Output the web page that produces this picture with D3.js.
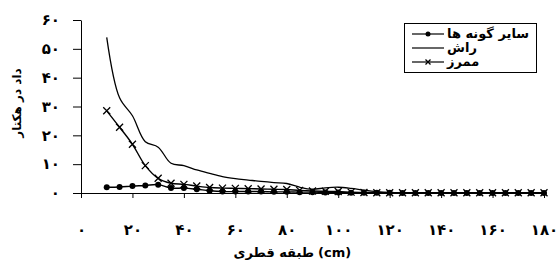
<!DOCTYPE html>
<html>
<head>
<meta charset="utf-8">
<script src="https://cdn.jsdelivr.net/npm/d3@7"></script>
<style>
  body { margin: 0; background: #fff; }
  svg { font-family: "DejaVu Sans", sans-serif; font-weight: bold; }
</style>
</head>
<body>
<div class="chart"></div>
<script>
// diameter classes (cm)
var diameters = [10, 15, 20, 25, 30, 35, 40, 45, 50, 55, 60, 65, 70, 75, 80, 85, 90, 95, 100,
  105, 110, 115, 120, 125, 130, 135, 140, 145, 150, 155, 160, 165, 170, 175, 180];

// number per hectare
var otherSpecies = [2.0, 2.1, 2.4, 2.6, 2.9, 1.7, 1.7, 1.3, 0.8, 0.5, 0.5, 0.5, 0.5, 0.4, 0.4, 0.3, 0.3, 0.2, 0.2,
  0.1, 0.1, 0.1, 0.1, 0, 0, 0, 0, 0, 0, 0, 0, 0, 0, 0, 0];
var beech = [54, 33, 26.8, 17.8, 15.9, 10.3, 9.5, 8.0, 6.8, 5.7, 5.0, 4.5, 4.0, 3.6, 3.3, 2.0, 1.3, 1.8, 2.0,
  1.6, 1.0, 0.5, 0.2, 0.1, 0.1, 0.1, 0.1, 0.1, 0.1, 0.1, 0.1, 0.1, 0.1, 0.1, 0.1];
var hornbeam = [28.5, 22.8, 16.9, 9.5, 5.1, 3.4, 3.0, 2.4, 1.9, 1.7, 1.6, 1.5, 1.4, 1.3, 1.2, 0.9, 0.7, 0.6, 0.5,
  0.3, 0.2, 0.1, 0.1, 0.1, 0.1, 0.1, 0.1, 0.1, 0.1, 0.1, 0.1, 0.1, 0.1, 0.1, 0.1];

var seriesNames = ["سایر گونه ها", "راش", "ممرز"];
var xTicks = [0, 20, 40, 60, 80, 100, 120, 140, 160, 180];
var yTicks = [0, 10, 20, 30, 40, 50, 60];
var xTitle = "طبقه قطری";
var xUnit = "(cm)";
var yTitle = "داد در هکتار";

var svgWidth = 559;
var svgHeight = 264;

var svg = d3.select(".chart")
  .append("svg")
  .attr("width", svgWidth)
  .attr("height", svgHeight);

var x = d3.scaleLinear().domain([0, 180]).range([81, 544]);
var y = d3.scaleLinear().domain([0, 60]).range([193, 20]);

// persian digits for the tick labels
var faDigits = "۰۱۲۳۴۵۶۷۸۹";
function fa(n) {
  return String(n).replace(/[0-9]/g, d => faDigits[+d]);
}

// y axis
var yAxis = svg.append("g")
  .attr("transform", `translate(${x(0)},0)`)
  .call(d3.axisLeft(y).tickValues(yTicks).tickSize(8).tickSizeOuter(0).tickPadding(13).tickFormat(fa));

// x axis
var xAxis = svg.append("g")
  .attr("transform", `translate(0,${y(0)})`)
  .call(d3.axisBottom(x).tickValues(xTicks).tickSize(5).tickSizeOuter(0).tickPadding(26).tickFormat(fa));

svg.selectAll(".tick text")
  .attr("font-family", "DejaVu Sans")
  .attr("font-weight", "bold")
  .attr("font-size", 15)
  .attr("fill", "#000");
svg.selectAll(".domain, .tick line").attr("stroke", "#000").attr("stroke-width", 1);

// axis titles (persian part left, unit right)
svg.append("text")
  .attr("x", 314)
  .attr("y", 257)
  .attr("text-anchor", "end")
  .attr("font-size", 13)
  .text(xTitle);
svg.append("text")
  .attr("x", 318)
  .attr("y", 257)
  .attr("text-anchor", "start")
  .attr("font-size", 13)
  .text(xUnit);

svg.append("text")
  .attr("transform", "translate(21,103) rotate(-90)")
  .attr("text-anchor", "middle")
  .attr("font-size", 12)
  .text(yTitle);

var line = d3.line()
  .x((d, i) => x(diameters[i]))
  .y(d => y(d))
  .curve(d3.curveCatmullRom.alpha(0.5));

var plot = svg.append("g");

function drawX(g, cx, cy, s) {
  g.append("path")
    .attr("d", `M${cx - s},${cy - s}L${cx + s},${cy + s}M${cx - s},${cy + s}L${cx + s},${cy - s}`)
    .attr("stroke", "#000")
    .attr("stroke-width", 1.3)
    .attr("fill", "none");
}

// beech (plain line)
plot.append("path")
  .datum(beech)
  .attr("d", line)
  .attr("fill", "none")
  .attr("stroke", "#000")
  .attr("stroke-width", 1.3);

// hornbeam (x markers)
plot.append("path")
  .datum(hornbeam)
  .attr("d", line)
  .attr("fill", "none")
  .attr("stroke", "#000")
  .attr("stroke-width", 1.4);

hornbeam.forEach(function(d, i) {
  drawX(plot, x(diameters[i]), y(d), 3.5);
});

// other species (dot markers)
plot.append("path")
  .datum(otherSpecies)
  .attr("d", line)
  .attr("fill", "none")
  .attr("stroke", "#000")
  .attr("stroke-width", 1.4);

plot.selectAll("circle")
  .data(otherSpecies)
  .enter()
  .append("circle")
  .attr("cx", (d, i) => x(diameters[i]))
  .attr("cy", d => y(d))
  .attr("r", 3)
  .attr("fill", "#000");

// legend
var legend = svg.append("g");
legend.append("rect")
  .attr("x", 404.5)
  .attr("y", 23.5)
  .attr("width", 132)
  .attr("height", 49)
  .attr("fill", "#fff")
  .attr("stroke", "#000")
  .attr("stroke-width", 1);

var rowsY = [34, 48, 62];
seriesNames.forEach(function(name, i) {
  var ly = rowsY[i];
  legend.append("line")
    .attr("x1", 412).attr("x2", 444)
    .attr("y1", ly).attr("y2", ly)
    .attr("stroke", "#000")
    .attr("stroke-width", 1.2);
  if (i === 0) {
    legend.append("circle").attr("cx", 428).attr("cy", ly).attr("r", 2.5).attr("fill", "#000");
  }
  if (i === 2) {
    drawX(legend, 428, ly, 2.5);
  }
  legend.append("text")
    .attr("x", 447)
    .attr("y", ly + 4)
    .attr("font-size", 13)
    .text(name);
});
</script>
</body>
</html>
